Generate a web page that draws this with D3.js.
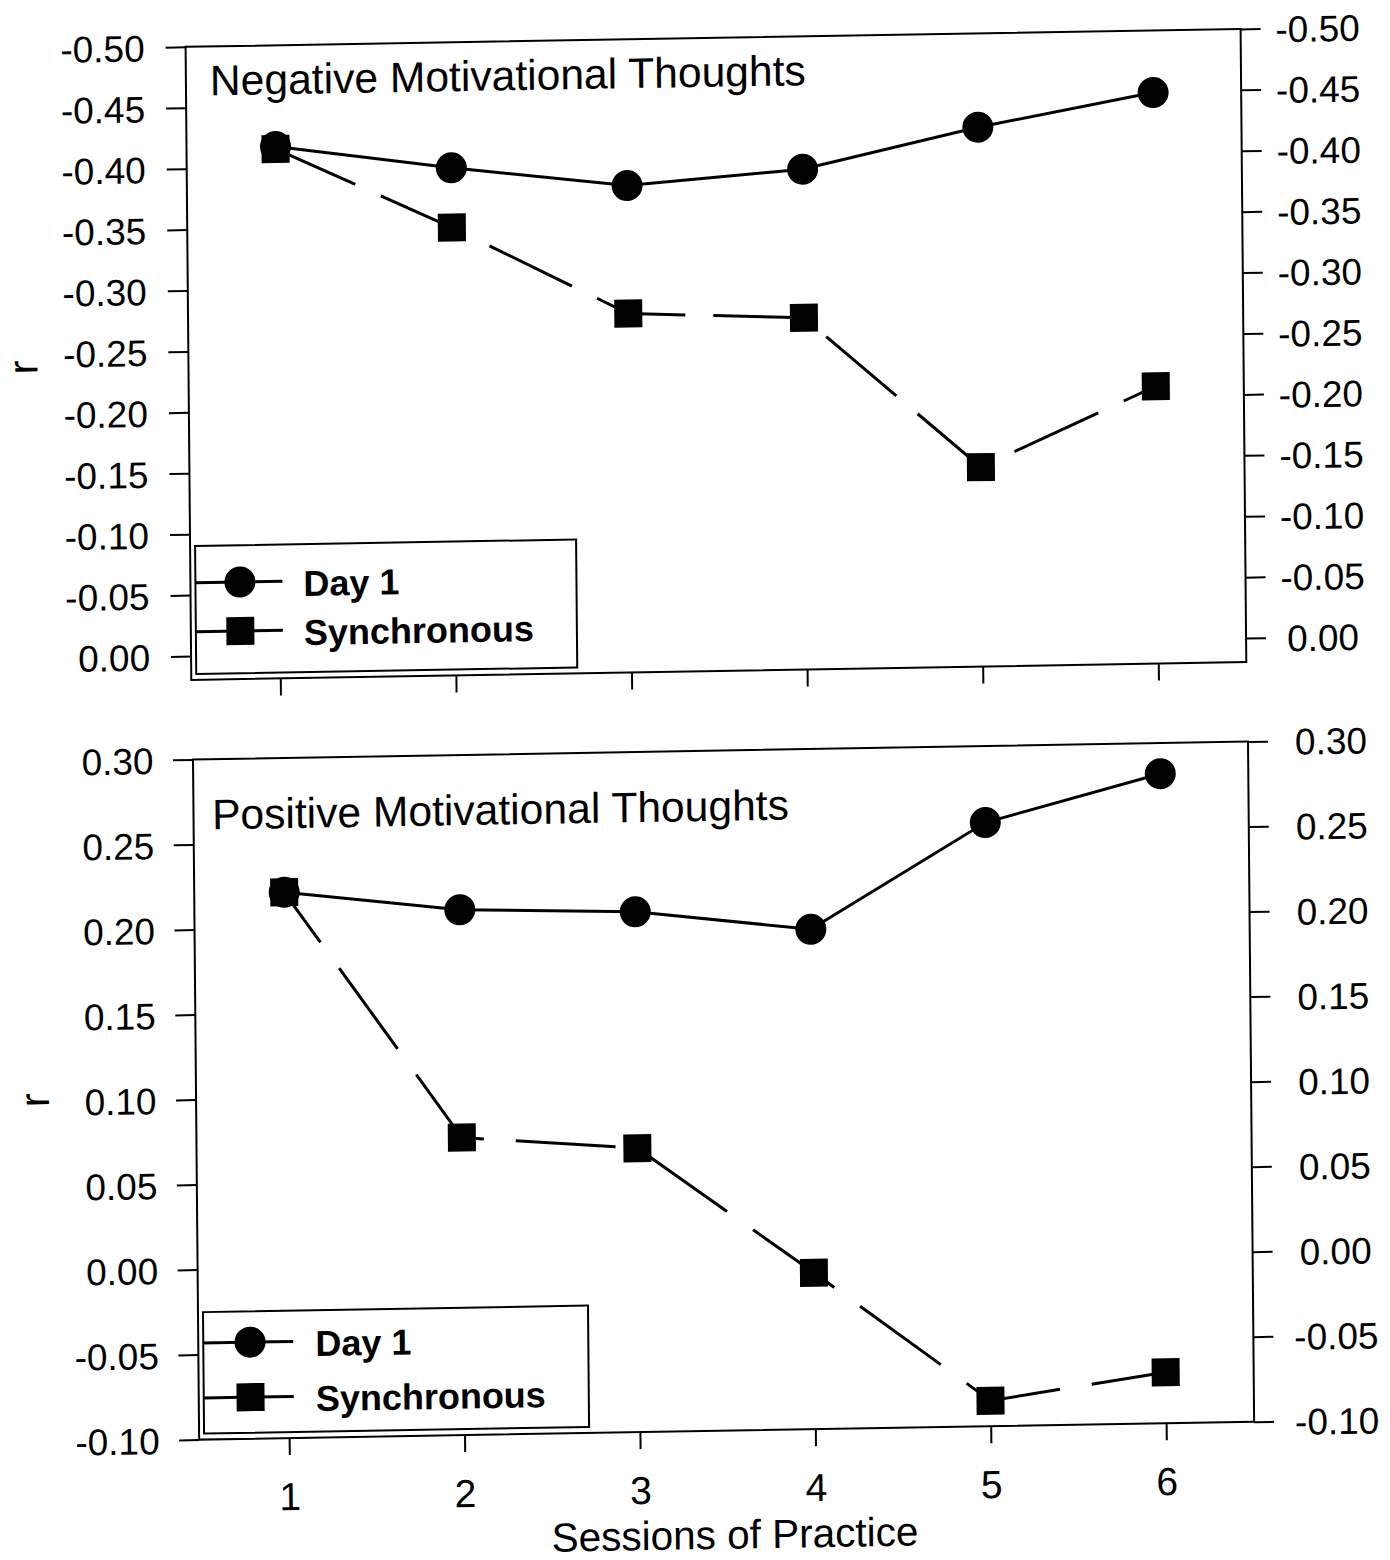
<!DOCTYPE html>
<html>
<head>
<meta charset="utf-8">
<script src="https://cdn.jsdelivr.net/npm/d3@7"></script>
<style>
  html, body { margin: 0; padding: 0; background: #fff; }
  svg { display: block; }
  text { font-family: "Liberation Sans", Arial, Helvetica, sans-serif; fill: #000; }
</style>
</head>
<body>
<script>
// ---------- data ----------
const sessions = [1, 2, 3, 4, 5, 6];
const sessionLabels = ["1", "2", "3", "4", "5", "6"];

const negDay1 = [-0.417, -0.397, -0.380, -0.391, -0.423, -0.449];
const negSync = [-0.415, -0.348, -0.275, -0.269, -0.144, -0.208];

const posDay1 = [0.221, 0.209, 0.206, 0.194, 0.255, 0.282];
const posSync = [0.221, 0.075, 0.067, -0.008, -0.085, -0.070];

const negTicks = [-0.50, -0.45, -0.40, -0.35, -0.30, -0.25, -0.20, -0.15, -0.10, -0.05, 0.00];
const negTickLabels = ["-0.50", "-0.45", "-0.40", "-0.35", "-0.30", "-0.25", "-0.20", "-0.15", "-0.10", "-0.05", "0.00"];
const posTicks = [0.30, 0.25, 0.20, 0.15, 0.10, 0.05, 0.00, -0.05, -0.10];
const posTickLabels = ["0.30", "0.25", "0.20", "0.15", "0.10", "0.05", "0.00", "-0.05", "-0.10"];

const seriesNames = ["Day 1", "Synchronous"];
const titles = ["Negative Motivational Thoughts", "Positive Motivational Thoughts"];
const yTitle = "r";
const xTitle = "Sessions of Practice";

// ---------- layout ----------
const W = 1390, H = 1560;
const svg = d3.select("body").append("svg").attr("width", W).attr("height", H);
// the scanned figure is slightly tilted: apply the same small affine tilt
const root = svg.append("g")
  .attr("transform", "translate(700,750) matrix(1,-0.017,0.009,1,0,0) translate(-700,-750)");

const panels = [
  {
    day1: negDay1, sync: negSync, ticks: negTicks, labels: negTickLabels, title: titles[0],
    domain: [-0.5, 0], yRange: [38.2, 647.4], frameTop: 38.2, frameBottom: 671.3,
    left: 192, right: 1247, xRange: [281, 1159],
    leftPad: 21, rightLabelX: 1324,
    dash: "92,28", dashOffset: 4.4,
    legend: { x0: 197, x1: 578, y0: 537.4, y1: 665.4, rows: [574.2, 623.2], mx: 241.5, lineEnd: 284, tx: 305 },
    titleX: 216, titleY: 87, rX: 41, rY: 356, xLabels: false
  },
  {
    day1: posDay1, sync: posSync, ticks: posTicks, labels: posTickLabels, title: titles[1],
    domain: [0.30, -0.10], yRange: [750.9, 1431], frameTop: 750.9, frameBottom: 1431,
    left: 193, right: 1248, xRange: [283, 1160],
    leftPad: 19.5, rightLabelX: 1331,
    dash: "100,32", dashOffset: 38,
    legend: { x0: 198, x1: 583, y0: 1303.6, y1: 1425, rows: [1334.4, 1389.4], mx: 244.8, lineEnd: 288, tx: 310 },
    titleX: 211.5, titleY: 821, rX: 46, rY: 1089, xLabels: true
  }
];

const tickFont = 37;

panels.forEach(p => {
  const g = root.append("g");
  const x = d3.scaleLinear().domain([1, 6]).range(p.xRange);
  const y = d3.scaleLinear().domain(p.domain).range(p.yRange);

  // frame
  g.append("rect")
    .attr("x", p.left).attr("y", p.frameTop)
    .attr("width", p.right - p.left).attr("height", p.frameBottom - p.frameTop)
    .attr("fill", "none").attr("stroke", "#000").attr("stroke-width", 2);

  // left axis
  const ax = g.append("g").attr("transform", `translate(${p.left},0)`)
    .call(d3.axisLeft(y).tickValues(p.ticks).tickFormat((d, i) => p.labels[i]).tickSize(20).tickPadding(p.leftPad));
  ax.select(".domain").remove();
  ax.selectAll("line").attr("stroke", "#000").attr("stroke-width", 2);
  ax.selectAll("text").attr("font-size", tickFont).attr("font-family", null).attr("dy", "0.36em");

  // right axis
  const ar = g.append("g").attr("transform", `translate(${p.right},0)`)
    .call(d3.axisRight(y).tickValues(p.ticks).tickFormat((d, i) => p.labels[i]).tickSize(20));
  ar.select(".domain").remove();
  ar.selectAll("line").attr("stroke", "#000").attr("stroke-width", 2);
  ar.selectAll("text").attr("font-size", tickFont).attr("font-family", null)
    .attr("x", p.rightLabelX - p.right).attr("text-anchor", "middle").attr("dy", "0.36em");

  // bottom axis
  const ab = g.append("g").attr("transform", `translate(0,${p.frameBottom})`)
    .call(d3.axisBottom(x).tickValues(sessions).tickFormat((d, i) => sessionLabels[i]).tickSize(17));
  ab.select(".domain").remove();
  ab.selectAll("line").attr("stroke", "#000").attr("stroke-width", 2);
  if (p.xLabels) {
    ab.selectAll("text").attr("font-size", 39).attr("font-family", null).attr("y", 72).attr("dy", 0);
  } else {
    ab.selectAll("text").remove();
  }

  // title
  g.append("text").attr("x", p.titleX).attr("y", p.titleY)
    .attr("font-size", 42.6).text(p.title);

  // y title
  g.append("text").attr("transform", `translate(${p.rX},${p.rY}) rotate(-90)`)
    .attr("text-anchor", "middle").attr("font-size", 42).text(yTitle);

  // lines
  const line = d3.line().x((d, i) => x(sessions[i])).y(d => y(d));
  g.append("path").datum(p.sync).attr("d", line)
    .attr("fill", "none").attr("stroke", "#000").attr("stroke-width", 3)
    .attr("stroke-dasharray", p.dash).attr("stroke-dashoffset", p.dashOffset);
  g.append("path").datum(p.day1).attr("d", line)
    .attr("fill", "none").attr("stroke", "#000").attr("stroke-width", 3);

  // markers
  g.selectAll(".c").data(p.day1).enter().append("circle")
    .attr("cx", (d, i) => x(sessions[i])).attr("cy", d => y(d)).attr("r", 15.5).attr("fill", "#000");
  const s = 28;
  g.selectAll(".s").data(p.sync).enter().append("rect")
    .attr("x", (d, i) => x(sessions[i]) - s / 2).attr("y", d => y(d) - s / 2)
    .attr("width", s).attr("height", s).attr("fill", "#000");

  // legend
  const L = p.legend;
  g.append("rect").attr("x", L.x0).attr("y", L.y0).attr("width", L.x1 - L.x0).attr("height", L.y1 - L.y0)
    .attr("fill", "#fff").attr("stroke", "#000").attr("stroke-width", 2);
  L.rows.forEach((ry, k) => {
    g.append("line").attr("x1", L.x0).attr("x2", L.lineEnd).attr("y1", ry).attr("y2", ry)
      .attr("stroke", "#000").attr("stroke-width", 3);
    if (k === 0) {
      g.append("circle").attr("cx", L.mx).attr("cy", ry).attr("r", 15.5).attr("fill", "#000");
    } else {
      g.append("rect").attr("x", L.mx - s / 2).attr("y", ry - s / 2).attr("width", s).attr("height", s).attr("fill", "#000");
    }
    g.append("text").attr("x", L.tx).attr("y", ry + 15).attr("font-size", 36).attr("font-weight", "bold")
      .text(seriesNames[k]);
  });
});

// x title
root.append("text").attr("x", 728).attr("y", 1549).attr("text-anchor", "middle")
  .attr("font-size", 40.5).text(xTitle);
</script>
</body>
</html>
